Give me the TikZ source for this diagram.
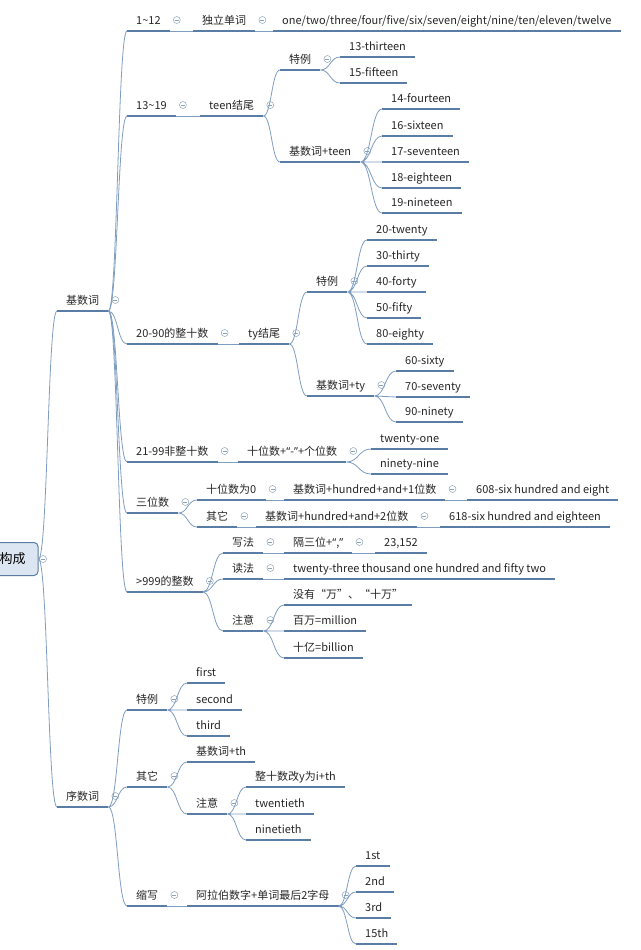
\documentclass[tikz,border=0pt]{standalone}
\usepackage{fontspec}
\setmainfont{Noto Sans CJK SC}
\newfontfamily\latinq{Noto Sans}
\newcommand{\openq}{{\latinq “}}
\newcommand{\closeq}{{\latinq ”}}
\usetikzlibrary{calc}
\definecolor{lineblue}{HTML}{5A7DA6}
\definecolor{linkblue}{HTML}{7F9DC0}
\definecolor{foldgray}{HTML}{8DA3BB}
\definecolor{rootfill}{HTML}{DCE6F2}
\tikzset{
  uline/.style={draw=lineblue, line width=2.4pt},
  topic/.style={anchor=south west, inner xsep=9pt, inner ysep=3pt, text height=8pt, text depth=3pt,
    text=black!85, font=\fontsize{11}{13}\selectfont,
    append after command={(\tikzlastnode.south west) edge[uline] (\tikzlastnode.south east)}},
  foldmark/.style={circle, draw=foldgray, line width=0.5pt, minimum size=7pt, inner sep=0pt,
    path picture={\draw[foldgray, line width=0.5pt] ([xshift=-2pt]path picture bounding box.center)
      -- ([xshift=2pt]path picture bounding box.center);}},
  fold/.style={append after command={node[foldmark] at ([xshift=7pt,yshift=11pt]\tikzlastnode.south east) {}}},
  root/.style={draw=lineblue, fill=rootfill, line width=1pt, rounded corners=4pt,
    minimum width=51pt, minimum height=33pt, font=\fontsize{13}{15}\selectfont},
  link/.style={draw=linkblue, line width=0.8pt,
    to path={let \p1=(\tikztostart), \p2=(\tikztotarget) in
      .. controls ({(\x1+\x2)/2},\y1) and ({(\x1+\x2)/2},\y2) .. (\tikztotarget)}}
}
\begin{document}
\begin{tikzpicture}[x=1pt, y=-1pt]
	\useasboundingbox (0,0) rectangle (640,950);
	% root
	\node[root] (root) at (12.5,559) {构成};
	\node[foldmark] at (43,559) {};
	\node[topic, fold] (jsc) at (57,311) {基数词};
	\node[topic, fold] (xsc) at (57,807) {序数词};
	\draw[link] (root.east) to (jsc.south west) (root.east) to (xsc.south west);
	
	% 1~12
	\node[topic, fold] (a1) at (127,31) {1\textasciitilde12};
	\node[topic, fold] (a1w) at (193,31) {独立单词};
	\node[topic] (a1l) at (273,31) {one/two/three/four/five/six/seven/eight/nine/ten/eleven/twelve};
	\draw[link] (jsc.south east) to (a1.south west);
	\draw[link] (a1.south east) to (a1w.south west) (a1w.south east) to (a1l.south west);
	
	% 13~19
	\node[topic, fold] (a2) at (127,116) {13\textasciitilde19};
	\node[topic, fold] (a2t) at (200,116) {teen结尾};
	\node[topic, fold] (a2s) at (280,70) {特例};
	\node[topic] (a2s1) at (340,57) {13-thirteen};
	\node[topic] (a2s2) at (340,83) {15-fifteen};
	\node[topic, fold] (a2b) at (280,162) {基数词+teen};
	\node[topic] (a2b1) at (382,109) {14-fourteen};
	\node[topic] (a2b2) at (382,136) {16-sixteen};
	\node[topic] (a2b3) at (382,162) {17-seventeen};
	\node[topic] (a2b4) at (382,188) {18-eighteen};
	\node[topic] (a2b5) at (382,213) {19-nineteen};
	\draw[link] (jsc.south east) to (a2.south west);
	\draw[link] (a2.south east) to (a2t.south west);
	\draw[link] (a2t.south east) to (a2s.south west) (a2t.south east) to (a2b.south west);
	\draw[link] (a2s.south east) to (a2s1.south west) (a2s.south east) to (a2s2.south west);
	\draw[link] (a2b.south east) to (a2b1.south west) (a2b.south east) to (a2b2.south west)
		(a2b.south east) to (a2b3.south west) (a2b.south east) to (a2b4.south west)
		(a2b.south east) to (a2b5.south west);
	
	% 20-90
	\node[topic, fold] (a3) at (127,344) {20-90的整十数};
	\node[topic, fold] (a3t) at (239,344) {ty结尾};
	\node[topic, fold] (a3s) at (307,292) {特例};
	\node[topic] (a3s1) at (367,240) {20-twenty};
	\node[topic] (a3s2) at (367,266) {30-thirty};
	\node[topic] (a3s3) at (367,292) {40-forty};
	\node[topic] (a3s4) at (367,318) {50-fifty};
	\node[topic] (a3s5) at (367,344) {80-eighty};
	\node[topic, fold] (a3b) at (307,396) {基数词+ty};
	\node[topic] (a3b1) at (396,371) {60-sixty};
	\node[topic] (a3b2) at (396,397) {70-seventy};
	\node[topic] (a3b3) at (396,422) {90-ninety};
	\draw[link] (jsc.south east) to (a3.south west);
	\draw[link] (a3.south east) to (a3t.south west);
	\draw[link] (a3t.south east) to (a3s.south west) (a3t.south east) to (a3b.south west);
	\draw[link] (a3s.south east) to (a3s1.south west) (a3s.south east) to (a3s2.south west)
		(a3s.south east) to (a3s3.south west) (a3s.south east) to (a3s4.south west)
		(a3s.south east) to (a3s5.south west);
	\draw[link] (a3b.south east) to (a3b1.south west) (a3b.south east) to (a3b2.south west)
		(a3b.south east) to (a3b3.south west);
	
	% 21-99
	\node[topic, fold] (a4) at (127,462) {21-99非整十数};
	\node[topic, fold] (a4r) at (238,462) {十位数+\openq-\closeq+个位数};
	\node[topic] (a4r1) at (371,449) {twenty-one};
	\node[topic] (a4r2) at (371,474) {ninety-nine};
	\draw[link] (jsc.south east) to (a4.south west);
	\draw[link] (a4.south east) to (a4r.south west);
	\draw[link] (a4r.south east) to (a4r1.south west) (a4r.south east) to (a4r2.south west);
	
	% hundreds
	\node[topic, fold] (a5) at (127,513) {三位数};
	\node[topic, fold] (a5z) at (197,500) {十位数为0};
	\node[topic, fold] (a5zr) at (284,500) {基数词+hundred+and+1位数};
	\node[topic] (a5ze) at (467,500) {608-six hundred and eight};
	\node[topic, fold] (a5o) at (197,527) {其它};
	\node[topic, fold] (a5or) at (256,527) {基数词+hundred+and+2位数};
	\node[topic] (a5oe) at (440,527) {618-six hundred and eighteen};
	\draw[link] (jsc.south east) to (a5.south west);
	\draw[link] (a5.south east) to (a5z.south west) (a5.south east) to (a5o.south west);
	\draw[link] (a5z.south east) to (a5zr.south west) (a5zr.south east) to (a5ze.south west);
	\draw[link] (a5o.south east) to (a5or.south west) (a5or.south east) to (a5oe.south west);
	
	% >999
	\node[topic, fold] (a6) at (127,592) {>999的整数};
	\node[topic, fold] (a6w) at (223,553) {写法};
	\node[topic, fold] (a6wr) at (284,553) {隔三位+\openq,\closeq};
	\node[topic] (a6we) at (375,553) {23,152};
	\node[topic, fold] (a6d) at (223,579) {读法};
	\node[topic] (a6dr) at (284,579) {twenty-three thousand one hundred and fifty two};
	\node[topic, fold] (a6n) at (223,631) {注意};
	\node[topic] (a6n1) at (284,605) {没有“万”、“十万”};
	\node[topic] (a6n2) at (284,631) {百万=million};
	\node[topic] (a6n3) at (284,658) {十亿=billion};
	\draw[link] (jsc.south east) to (a6.south west);
	\draw[link] (a6.south east) to (a6w.south west) (a6.south east) to (a6d.south west)
		(a6.south east) to (a6n.south west);
	\draw[link] (a6w.south east) to (a6wr.south west) (a6wr.south east) to (a6we.south west);
	\draw[link] (a6d.south east) to (a6dr.south west);
	\draw[link] (a6n.south east) to (a6n1.south west) (a6n.south east) to (a6n2.south west)
		(a6n.south east) to (a6n3.south west);
	
	% ordinal numbers
	\node[topic, fold] (b1) at (127,710) {特例};
	\node[topic] (b11) at (187,683) {first};
	\node[topic] (b12) at (187,710) {second};
	\node[topic] (b13) at (187,736) {third};
	\node[topic, fold] (b2) at (127,787) {其它};
	\node[topic] (b21) at (187,762) {基数词+th};
	\node[topic, fold] (b2n) at (187,814) {注意};
	\node[topic] (b2n1) at (246,787) {整十数改y为i+th};
	\node[topic] (b2n2) at (246,814) {twentieth};
	\node[topic] (b2n3) at (246,840) {ninetieth};
	\node[topic, fold] (b3) at (127,906) {缩写};
	\node[topic, fold] (b3r) at (187,906) {阿拉伯数字+单词最后2字母};
	\node[topic] (b3r1) at (356,866) {1st};
	\node[topic] (b3r2) at (356,892) {2nd};
	\node[topic] (b3r3) at (356,918) {3rd};
	\node[topic] (b3r4) at (356,944) {15th};
	\draw[link] (xsc.south east) to (b1.south west) (xsc.south east) to (b2.south west)
		(xsc.south east) to (b3.south west);
	\draw[link] (b1.south east) to (b11.south west) (b1.south east) to (b12.south west)
		(b1.south east) to (b13.south west);
	\draw[link] (b2.south east) to (b21.south west) (b2.south east) to (b2n.south west);
	\draw[link] (b2n.south east) to (b2n1.south west) (b2n.south east) to (b2n2.south west)
		(b2n.south east) to (b2n3.south west);
	\draw[link] (b3.south east) to (b3r.south west);
	\draw[link] (b3r.south east) to (b3r1.south west) (b3r.south east) to (b3r2.south west)
		(b3r.south east) to (b3r3.south west) (b3r.south east) to (b3r4.south west);
\end{tikzpicture}
\end{document}
